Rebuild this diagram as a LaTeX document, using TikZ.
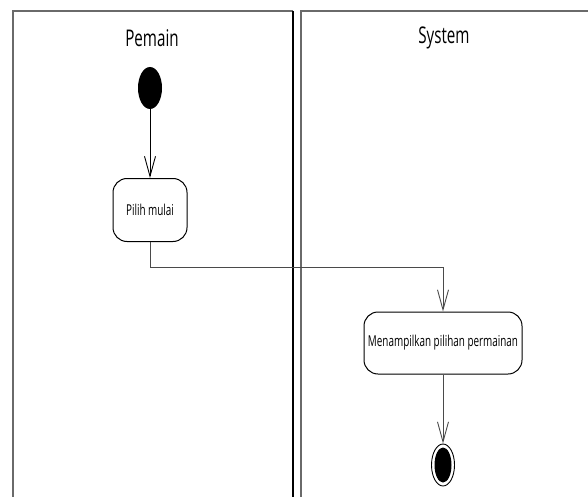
\documentclass[tikz,border=0pt]{standalone}
\usepackage{fontspec}
\setmainfont{Open Sans}[FakeStretch=0.66]
\usetikzlibrary{arrows.meta,shapes.geometric}
\definecolor{lanegray}{HTML}{6A6A6A}
\definecolor{linegray}{HTML}{4A4A4A}
\tikzset{
  lanetitle/.style={font=\fontsize{23}{26}\selectfont, text=black},
  action/.style={draw=black, line width=1pt, rounded corners=14pt, fill=white,
    font=\fontsize{15}{17}\selectfont, inner sep=0pt},
  startnode/.style={ellipse, fill=black, minimum width=24pt, minimum height=42pt, inner sep=0pt},
  endouter/.style={ellipse, draw=black, line width=0.9pt, fill=white, minimum width=23pt, minimum height=42pt, inner sep=0pt},
  endinner/.style={ellipse, fill=black, minimum width=17pt, minimum height=35pt, inner sep=0pt},
  flow/.style={draw=linegray, line width=1pt, -{Straight Barb[length=20pt,width=11pt,line width=0.9pt]}},
}
\begin{document}
\begin{tikzpicture}[x=1pt,y=-1pt]
\useasboundingbox (0,0) rectangle (588,497);
% swimlanes
\draw[lanegray, line width=1.1pt] (13,497) -- (13,11) -- (293,11);
\draw[black, line width=1.1pt] (293,11) -- (293,497);
\draw[lanegray, line width=1.1pt] (301,497) -- (301,11) -- (588,11);
\node[lanetitle] (lanePemain) at (152,38) {Pemain};
\node[lanetitle] (laneSystem) at (444,38) {System};
% activity nodes
\node[startnode] (start) at (150,88) {};
\node[action, minimum width=74pt, minimum height=63pt] (pilih) at (150,210) {Pilih mulai};
\node[action, minimum width=158pt, minimum height=62pt] (tampil) at (443,343) {Menampilkan pilihan permainan};
\node[endouter] (finish) at (443,465) {};
\node[endinner] (finishdot) at (443,465) {};
% control flow
\draw[flow, draw=black] (start) -- (pilih);
\draw[flow] (pilih.south) |- (443,267) coordinate (turn) -- (tampil.north);
\draw[flow] (tampil) -- (finish);
\end{tikzpicture}
\end{document}
